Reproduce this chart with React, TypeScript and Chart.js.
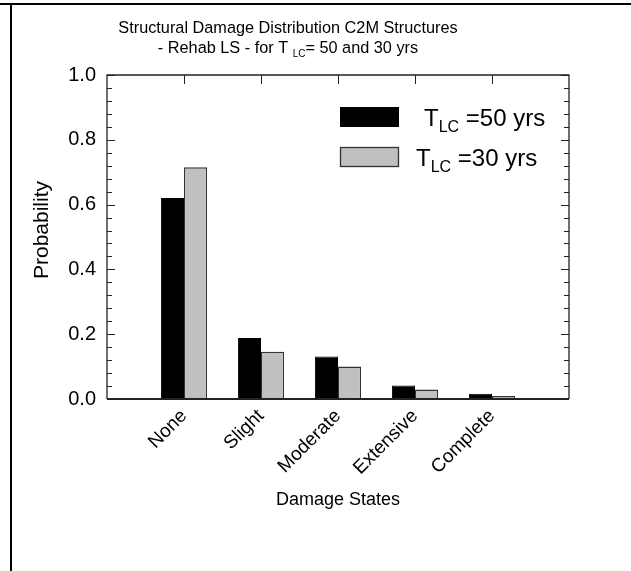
import React, { useEffect, useRef } from 'react';
import { Chart, registerables } from 'chart.js';

Chart.register(...registerables);

// ---- data ----
const categories = ['None', 'Slight', 'Moderate', 'Extensive', 'Complete'];
const tlc50 = [0.62, 0.188, 0.131, 0.042, 0.016];
const tlc30 = [0.715, 0.146, 0.1, 0.029, 0.009];
const yTickStep = 0.2;
const yMinorStep = 0.04;
const seriesNames = ['=50 yrs', '=30 yrs'];
const titleLine1 = 'Structural Damage Distribution C2M Structures';
const titleLine2 = ['- Rehab LS - for T ', 'LC', '= 50 and 30 yrs'];
const xTitle = 'Damage States';
const yTitle = 'Probability';

const FONT = '"Liberation Sans", Arial, Helvetica, sans-serif';

type Seg = { text: string; size: number; dy: number };

function drawRich(ctx: CanvasRenderingContext2D, segs: Seg[], x: number, y: number, align: 'left' | 'center') {
  let total = 0;
  const widths = segs.map((s) => {
    ctx.font = `${s.size}px ${FONT}`;
    const w = ctx.measureText(s.text).width;
    total += w;
    return w;
  });
  let cx = align === 'center' ? x - total / 2 : x;
  ctx.textAlign = 'left';
  ctx.textBaseline = 'alphabetic';
  segs.forEach((s, i) => {
    ctx.font = `${s.size}px ${FONT}`;
    ctx.fillText(s.text, cx, y + s.dy);
    cx += widths[i];
  });
}

const decorPlugin = {
  id: 'decor',
  afterDraw(chart: any) {
    const { ctx, chartArea: a, scales } = chart;
    ctx.save();
    // page frame
    ctx.fillStyle = '#000';
    ctx.fillRect(0, 3, chart.width, 2);
    ctx.fillRect(10, 3, 2, chart.height - 3);

    // plot frame
    ctx.strokeStyle = '#222';
    ctx.lineWidth = 1.3;
    ctx.beginPath();
    ctx.moveTo(a.left, a.bottom);
    ctx.lineTo(a.left, a.top);
    ctx.lineTo(a.right, a.top);
    ctx.lineTo(a.right, a.bottom);
    ctx.stroke();
    ctx.lineWidth = 2;
    ctx.beginPath();
    ctx.moveTo(a.left, a.bottom);
    ctx.lineTo(a.right, a.bottom);
    ctx.stroke();

    // y ticks (inward, both sides)
    const y = scales.y;
    ctx.lineWidth = 1;
    const n = Math.round(1 / yMinorStep);
    const perMajor = Math.round(yTickStep / yMinorStep);
    for (let i = 0; i <= n; i++) {
      const v = i * yMinorStep;
      const major = i % perMajor === 0;
      const len = major ? 8 : 5;
      const py = Math.round(y.getPixelForValue(v)) + 0.5;
      ctx.beginPath();
      ctx.moveTo(a.left, py);
      ctx.lineTo(a.left + len, py);
      ctx.moveTo(a.right - len, py);
      ctx.lineTo(a.right, py);
      ctx.stroke();
    }
    // x ticks on top at category centres
    const x = scales.x;
    categories.forEach((_c, i) => {
      const px = Math.round(x.getPixelForValue(i + 1)) + 0.5;
      ctx.beginPath();
      ctx.moveTo(px, a.top);
      ctx.lineTo(px, a.top + 9);
      ctx.stroke();
    });

    // title
    ctx.fillStyle = '#000';
    drawRich(ctx, [{ text: titleLine1, size: 16.3, dy: 0 }], 288, 33, 'center');
    drawRich(
      ctx,
      [
        { text: titleLine2[0], size: 16.3, dy: 0 },
        { text: titleLine2[1], size: 10, dy: 4 },
        { text: titleLine2[2], size: 16.3, dy: 0 },
      ],
      288,
      53,
      'center'
    );

    // y axis title
    ctx.save();
    ctx.translate(42, 230);
    ctx.rotate(-Math.PI / 2);
    ctx.font = `21px ${FONT}`;
    ctx.textAlign = 'center';
    ctx.textBaseline = 'middle';
    ctx.fillText(yTitle, 0, 0);
    ctx.restore();

    // legend
    ctx.fillStyle = '#000';
    ctx.fillRect(340, 107, 59, 20);
    ctx.fillStyle = '#c0c0c0';
    ctx.fillRect(340, 147, 59, 20);
    ctx.strokeStyle = '#333';
    ctx.lineWidth = 1.3;
    ctx.strokeRect(340.5, 147.5, 58, 19);
    ctx.fillStyle = '#000';
    drawRich(
      ctx,
      [
        { text: 'T', size: 24, dy: 0 },
        { text: 'LC', size: 16, dy: 6 },
        { text: ' ' + seriesNames[0], size: 24, dy: 0 },
      ],
      424,
      126,
      'left'
    );
    drawRich(
      ctx,
      [
        { text: 'T', size: 24, dy: 0 },
        { text: 'LC', size: 16, dy: 6 },
        { text: ' ' + seriesNames[1], size: 24, dy: 0 },
      ],
      416,
      166,
      'left'
    );
    ctx.restore();
  },
};

export default function App() {
  const ref = useRef<HTMLCanvasElement | null>(null);
  useEffect(() => {
    if (!ref.current) return;
    const labels = ['', ...categories, ''];
    const chart = new Chart(ref.current, {
      type: 'bar',
      data: {
        labels,
        datasets: [
          {
            label: 'TLC =50 yrs',
            data: [null, ...tlc50, null] as any,
            backgroundColor: '#000000',
            borderColor: '#000000',
            borderWidth: 1,
            categoryPercentage: 0.6,
            barPercentage: 1,
          },
          {
            label: 'TLC =30 yrs',
            data: [null, ...tlc30, null] as any,
            backgroundColor: '#c0c0c0',
            borderColor: '#333333',
            borderWidth: 1.3,
            categoryPercentage: 0.6,
            barPercentage: 1,
          },
        ],
      },
      options: {
        responsive: false,
        maintainAspectRatio: false,
        animation: false,
        layout: { padding: { left: 31, top: 75, right: 62, bottom: 60 } },
        plugins: {
          legend: { display: false },
          tooltip: { enabled: false },
          title: { display: false },
        },
        scales: {
          x: {
            type: 'category',
            offset: false,
            grid: { display: false, drawTicks: false },
            border: { display: false },
            ticks: {
              autoSkip: false,
              maxRotation: 45,
              minRotation: 45,
              padding: 6,
              color: '#000',
              font: { family: FONT, size: 19 },
            },
            title: {
              display: true,
              text: xTitle,
              color: '#000',
              padding: 0,
              font: { family: FONT, size: 18 },
            },
            afterFit: (s: any) => {
              s.height = 112;
            },
          },
          y: {
            min: 0,
            max: 1,
            grid: { display: false, drawTicks: false },
            border: { display: false },
            ticks: {
              stepSize: yTickStep,
              padding: 11,
              color: '#000',
              font: { family: FONT, size: 20 },
              callback: (v: any) => Number(v).toFixed(1),
            },
            title: { display: false },
            afterFit: (s: any) => {
              s.width = 76;
            },
          },
        },
      },
      plugins: [decorPlugin],
    });
    return () => chart.destroy();
  }, []);
  return (
    <div style={{ position: 'absolute', left: 0, top: 0, width: 631, height: 571, background: '#fff' }}>
      <canvas ref={ref} width={631} height={571} style={{ display: 'block', width: 631, height: 571 }} />
    </div>
  );
}
